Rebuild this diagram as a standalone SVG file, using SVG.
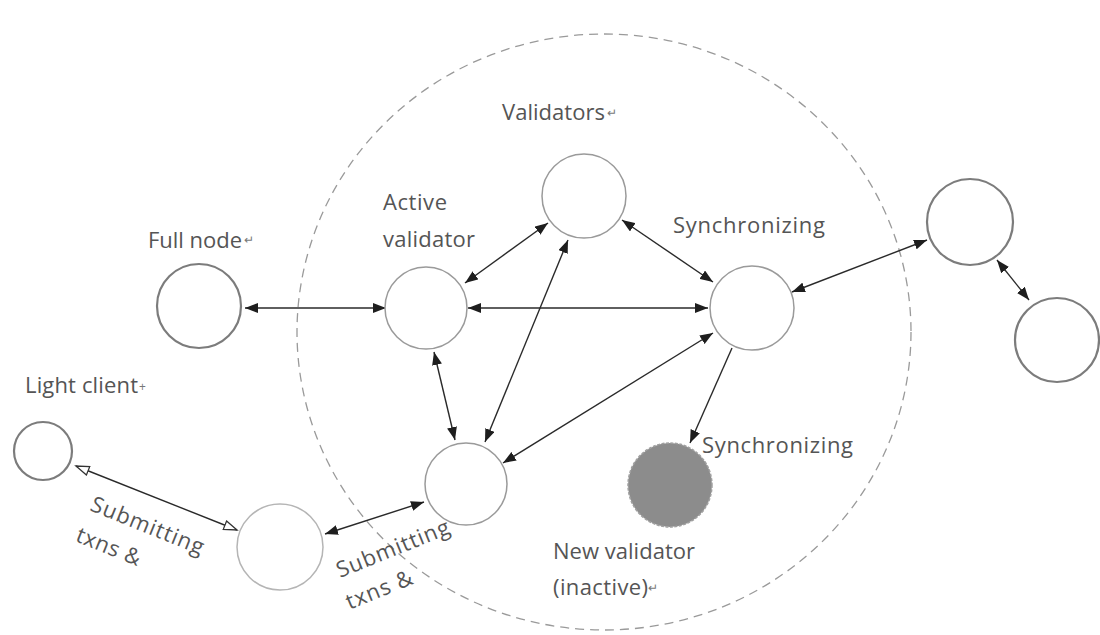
<svg xmlns="http://www.w3.org/2000/svg" width="1100" height="635" viewBox="0 0 1100 635">
  <style>
    .lbl { font-family: "Open Sans", "Noto Sans", "Liberation Sans", sans-serif; font-size: 22px; fill: #555; }
    .mark { font-size: 12px; fill: #777; }
    .node { fill: #fff; stroke: #9a9a9a; stroke-width: 1.5; }
    .outer { fill: #fff; stroke: #7c7c7c; stroke-width: 2.2; }
    .edge { stroke: #2a2a2a; stroke-width: 1.4; fill: none; }
  </style>
  <defs>
    <marker id="ah" markerUnits="userSpaceOnUse" markerWidth="14" markerHeight="10" refX="13" refY="5" orient="auto-start-reverse">
      <path d="M0,0 L13,5 L0,10 z" fill="#1e1e1e"/>
    </marker>
    <marker id="oh" markerUnits="userSpaceOnUse" markerWidth="16" markerHeight="12" refX="14" refY="6" orient="auto-start-reverse">
      <path d="M1,1.5 L14,6 L1,10.5 z" fill="#fff" stroke="#333" stroke-width="1.3"/>
    </marker>
  </defs>

  <rect width="1100" height="635" fill="#fff"/>

  <!-- validator set boundary -->
  <ellipse id="validator-set" cx="604" cy="332" rx="307" ry="298" fill="none" stroke="#9a9a9a" stroke-width="1.3" stroke-dasharray="9 6"/>

  <!-- connectors -->
  <g id="connectors">
    <line class="edge" x1="245" y1="308" x2="386" y2="308" marker-start="url(#ah)" marker-end="url(#ah)"/>
    <line class="edge" x1="468" y1="308" x2="708" y2="308" marker-start="url(#ah)" marker-end="url(#ah)"/>
    <line class="edge" x1="465" y1="283" x2="548" y2="223" marker-start="url(#ah)" marker-end="url(#ah)"/>
    <line class="edge" x1="622" y1="220" x2="713" y2="282" marker-start="url(#ah)" marker-end="url(#ah)"/>
    <line class="edge" x1="568" y1="240" x2="485" y2="442" marker-start="url(#ah)" marker-end="url(#ah)"/>
    <line class="edge" x1="434" y1="352" x2="455" y2="440" marker-start="url(#ah)" marker-end="url(#ah)"/>
    <line class="edge" x1="713" y1="333" x2="503" y2="463" marker-start="url(#ah)" marker-end="url(#ah)"/>
    <line class="edge" x1="792" y1="292" x2="927" y2="240" marker-start="url(#ah)" marker-end="url(#ah)"/>
    <line class="edge" x1="997" y1="260" x2="1029" y2="300" marker-start="url(#ah)" marker-end="url(#ah)"/>
    <line class="edge" x1="732" y1="348" x2="690" y2="443" marker-end="url(#ah)"/>
    <line class="edge" x1="424" y1="502" x2="325" y2="534" marker-start="url(#ah)" marker-end="url(#ah)"/>
    <line class="edge" x1="76" y1="466" x2="237" y2="530" marker-start="url(#oh)" marker-end="url(#oh)"/>
  </g>

  <!-- nodes -->
  <g id="full-node">
    <circle class="outer" cx="199" cy="306" r="42"/>
    <text class="lbl" x="148" y="248" textLength="94">Full node</text>
    <text class="lbl mark" x="244" y="244">↵</text>
  </g>
  <g id="active-validator">
    <circle class="node" cx="426" cy="308" r="41"/>
    <text class="lbl" x="383" y="210" textLength="64">Active</text>
    <text class="lbl" x="383" y="247" textLength="92">validator</text>
  </g>
  <g id="validator-top">
    <circle class="node" cx="584" cy="196" r="42"/>
    <text class="lbl" x="502" y="120" textLength="103">Validators</text>
    <text class="lbl mark" x="607" y="117">↵</text>
  </g>
  <g id="synchronizing-validator">
    <circle class="node" cx="752" cy="308" r="42"/>
    <text class="lbl" x="673" y="233" textLength="152">Synchronizing</text>
  </g>
  <g id="validator-bottom">
    <circle class="node" cx="466" cy="484" r="41"/>
  </g>
  <g id="new-validator">
    <circle cx="670" cy="485" r="42" fill="#8c8c8c" stroke="#a0a0a0" stroke-width="1.5" stroke-dasharray="3 1.5"/>
    <text class="lbl" x="702" y="453" textLength="151">Synchronizing</text>
    <text class="lbl" x="553" y="559" textLength="142">New validator</text>
    <text class="lbl" x="553" y="595" textLength="95">(inactive)</text>
    <text class="lbl mark" x="648" y="592">↵</text>
  </g>
  <g id="peer-upper">
    <circle class="outer" cx="970" cy="222" r="43"/>
  </g>
  <g id="peer-lower">
    <circle class="outer" cx="1057" cy="340" r="42"/>
  </g>
  <g id="light-client">
    <circle class="outer" cx="43" cy="451" r="29"/>
    <text class="lbl" x="25" y="393" textLength="113">Light client</text>
    <text class="lbl mark" x="139" y="391">+</text>
  </g>
  <g id="relay-node">
    <circle cx="280" cy="547" r="43" fill="#fff" stroke="#b5b5b5" stroke-width="1.5"/>
  </g>

  <!-- edge labels -->
  <g id="edge-labels">
    <g transform="translate(89 510) rotate(22)">
      <text class="lbl" x="0" y="0" textLength="120">Submitting</text>
      <text class="lbl" x="-2" y="34" textLength="68">txns &amp;</text>
    </g>
    <g transform="translate(340 578) rotate(-22)">
      <text class="lbl" x="0" y="0" textLength="120">Submitting</text>
      <text class="lbl" x="-3" y="33" textLength="70">txns &amp;</text>
    </g>
  </g>
</svg>
